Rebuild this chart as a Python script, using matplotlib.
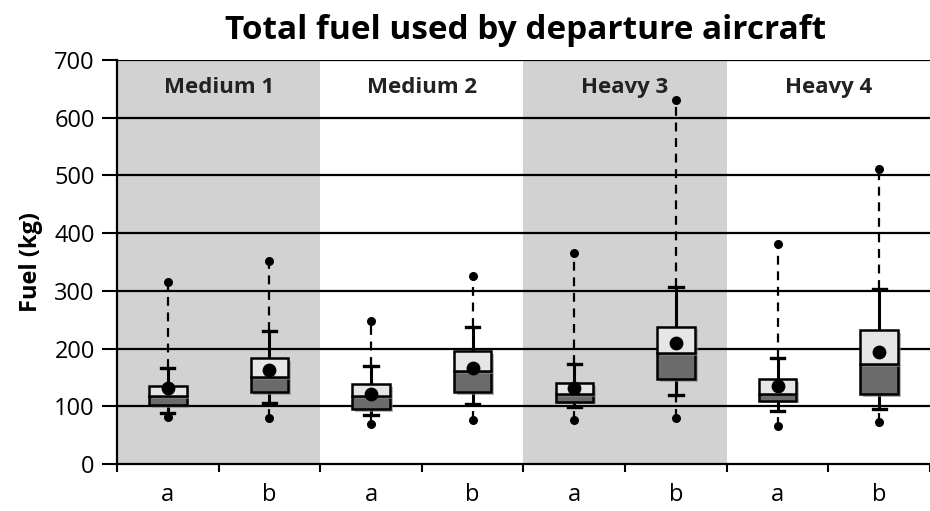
import matplotlib
matplotlib.use("Agg")
import matplotlib.pyplot as plt
import matplotlib.patheffects as pe
import numpy as np

plt.rcParams['font.family'] = ['Open Sans', 'DejaVu Sans']

tick_labels = ["a", "b", "a", "b", "a", "b", "a", "b"]
groups = ["Medium 1", "Medium 2", "Heavy 3", "Heavy 4"]
max_vals = [316, 351, 248, 325, 366, 631, 382, 511]
upper_whisk = [166, 231, 169, 237, 174, 306, 183, 303]
q3 = [135, 183, 139, 195, 140, 238, 147, 232]
median = [118, 151, 118, 161, 121, 192, 122, 173]
q1 = [102, 124, 95, 125, 108, 147, 110, 121]
lower_whisk = [89, 105, 85, 104, 98, 120, 91, 96]
min_vals = [82, 80, 70, 76, 77, 79, 65, 72]
means = [131, 163, 122, 166, 131, 209, 135, 194]

fig = plt.figure(figsize=(9.3, 5.11), dpi=100)
ax = fig.add_axes([0.1258, 0.092, 0.8742, 0.7906])

x = np.arange(len(tick_labels))
ax.set_xlim(-0.5, 7.43)
ax.set_ylim(0, 700)

# shaded bands for groups 1 and 3
for g in (0, 2):
    ax.axvspan(2 * g - 0.5, 2 * g + 1.5, color="#d2d2d2", zorder=0, lw=0)

# gridlines
for v in range(100, 701, 100):
    ax.axhline(v, color="black", lw=1.6, zorder=1)

shadow = [pe.SimplePatchShadow(offset=(2, -2), shadow_rgbFace="#888888", alpha=0.6), pe.Normal()]
bw = 0.37
cap = 0.13
for i in range(len(x)):
    xi = x[i]
    # dashed extensions
    ax.plot([xi, xi], [upper_whisk[i], max_vals[i]], color="black", lw=1.6, ls=(0, (4, 3)), zorder=2)
    ax.plot([xi, xi], [min_vals[i], lower_whisk[i]], color="black", lw=1.6, ls=(0, (4, 3)), zorder=2)
    # solid whiskers
    ax.plot([xi, xi], [q3[i], upper_whisk[i]], color="black", lw=2.2, zorder=2)
    ax.plot([xi, xi], [lower_whisk[i], q1[i]], color="black", lw=2.2, zorder=2)
    ax.plot([xi - cap / 2, xi + cap / 2], [upper_whisk[i]] * 2, color="black", lw=2.4, zorder=2)
    ax.plot([xi - cap / 2, xi + cap / 2], [lower_whisk[i]] * 2, color="black", lw=2.4, zorder=2)
    # boxes
    b1 = ax.bar(xi, median[i] - q1[i], bottom=q1[i], width=bw, color="#6b6b6b",
                edgecolor="black", lw=1.8, zorder=3)
    b2 = ax.bar(xi, q3[i] - median[i], bottom=median[i], width=bw, color="#e6e6e6",
                edgecolor="black", lw=1.8, zorder=3)
    for p in list(b1) + list(b2):
        p.set_path_effects(shadow)

ax.scatter(x, max_vals, s=30, color="black", zorder=4)
ax.scatter(x, min_vals, s=30, color="black", zorder=4)
ax.scatter(x, means, s=80, color="black", zorder=5)

for g, name in enumerate(groups):
    ax.text(2 * g + 0.5, 652, name, ha="center", va="center", fontsize=16,
            fontweight="bold", color="#222222", zorder=6)

ax.set_yticks(range(0, 701, 100))
ax.tick_params(axis="y", labelsize=17, length=11, width=1.5, direction="out",
               colors="black", pad=5)
ax.set_xticks(x)
ax.set_xticklabels(tick_labels)
ax.tick_params(axis="x", which="major", length=0, labelsize=17, pad=14)
ax.set_xticks(np.arange(-0.5, 8.0, 1.0), minor=True)
ax.tick_params(axis="x", which="minor", length=6, width=1.5, direction="out")

for s in ("top", "right"):
    ax.spines[s].set_visible(False)
ax.spines["left"].set_linewidth(1.6)
ax.spines["bottom"].set_linewidth(1.6)

ax.set_ylabel("Fuel (kg)", fontsize=17, fontweight="bold", labelpad=8)
fig.text(0.565, 0.94, "Total fuel used by departure aircraft", ha="center", va="center",
         fontsize=24, fontweight="bold")

fig.savefig("out.png", dpi=100)
